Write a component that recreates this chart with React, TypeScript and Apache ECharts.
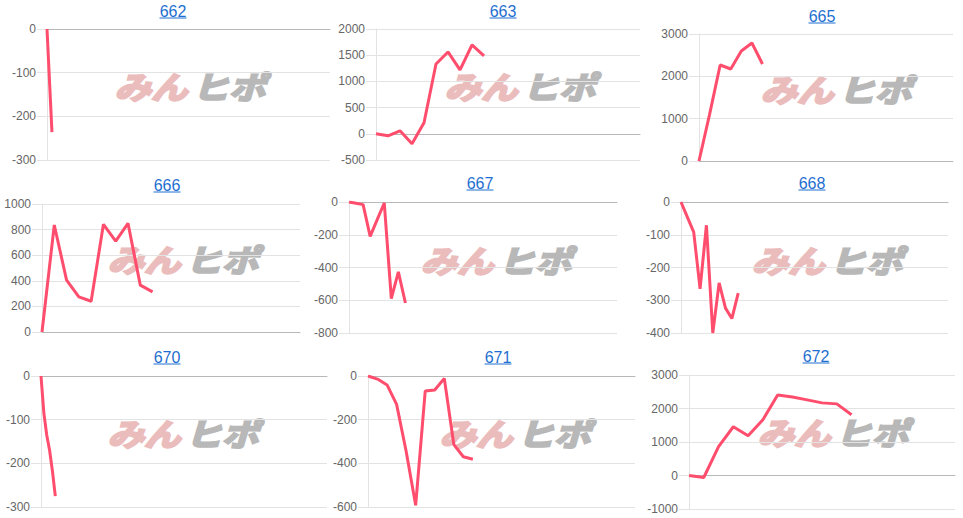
import React, { useEffect, useRef } from "react";
import * as echarts from "echarts";

// ---- data ----
const titles = ["662", "663", "665", "666", "667", "668", "670", "671", "672"];
const v662 = [0, -236];
const v663 = [0, -38, 57, -190, 210, 1333, 1562, 1219, 1695, 1486];
const v665 = [0, 1100, 2268, 2173, 2598, 2787, 2291];
const v666 = [0, 836, 405, 274, 240, 841, 710, 849, 366, 313];
const v667 = [0, -8, -16, -210, -108, -6, -590, -427, -617];
const v668 = [0, -46, -92, -265, -71, -400, -247, -324, -356, -278];
const v670 = [0, -85, -135, -170, -218, -275];
const v671 = [0, -14, -41, -130, -345, -592, -69, -64, -11, -314, -370, -381];
const v672 = [0, -60, 861, 1455, 1188, 1663, 2405, 2346, 2257, 2168, 2138, 1812];
const seriesValues = [v662, v663, v665, v666, v667, v668, v670, v671, v672];

// number of x slots (intervals) per chart
const xSlots = [57, 22, 24, 21, 38, 42, 100, 28, 18];
// y axis ranges
const yMin = [-300, -500, 0, 0, -800, -400, -300, -600, -1000];
const yMax = [0, 2000, 3000, 1000, 0, 0, 0, 0, 3000];
const yStep = [100, 500, 1000, 200, 200, 100, 100, 200, 1000];

// ---- layout ----
// [left, top, width, height]
const grids = [
  [47, 29, 283, 131],
  [376, 29, 264, 131],
  [699, 34, 254, 127],
  [42, 204, 258, 128],
  [349, 202, 268, 131],
  [681, 202, 267, 131],
  [41, 376, 286, 131],
  [368, 376, 267, 131],
  [689, 375, 266, 134],
];
const titlePos = [
  [173, 11], [503, 11], [822, 16],
  [167, 185], [480, 183], [812, 183],
  [167, 357], [498, 357], [816, 356],
];
const logoPos = [
  [190, 86], [520, 86], [836, 89],
  [183, 259], [496, 260], [827, 260],
  [183, 433], [515, 433], [833, 432],
];

const LINE = "#ff4d6d";
const GRIDC = "#e3e3e3";
const LINK = "#1f6fd0";
const FONT = "Arial, 'Liberation Sans', sans-serif";
const PINK = "#ebbcbc";
const GREY = "#b8b8b8";

export default function App() {
  const ref = useRef<HTMLDivElement>(null);
  useEffect(() => {
    if (!ref.current) return;
    const chart = echarts.init(ref.current, undefined, { renderer: "svg" });
    const graphic: any[] = [];
    const logoText = (text: string, x: number, align: string, color: string) => ({
      type: "text",
      x,
      y: 0,
      style: {
        text,
        fill: color,
        stroke: color,
        lineWidth: 2.2,
        fontSize: 31,
        fontWeight: "bold",
        fontStyle: "italic",
        fontFamily: "'Noto Sans CJK JP', sans-serif",
        textAlign: align,
        textVerticalAlign: "middle",
      },
    });
    titles.forEach((t, i) => {
      const [cx, cy] = titlePos[i];
      graphic.push({
        type: "text",
        x: cx,
        y: cy,
        z: 10,
        style: {
          text: t,
          fill: LINK,
          font: `16px ${FONT}`,
          textAlign: "center",
          textVerticalAlign: "middle",
        },
      });
      graphic.push({
        type: "line",
        z: 10,
        shape: { x1: cx - 13.5, y1: cy + 7, x2: cx + 13.5, y2: cy + 7 },
        style: { stroke: LINK, lineWidth: 1 },
      });
      const [lx, ly] = logoPos[i];
      graphic.push({
        type: "group",
        x: lx,
        y: ly,
        scaleX: 1.18,
        z: 1,
        children: [logoText("みん", -2, "right", PINK), logoText("ヒポ", 2, "left", GREY)],
      });
    });

    const option: any = {
      animation: false,
      backgroundColor: "#ffffff",
      grid: grids.map(([l, t, w, h]) => ({ left: l, top: t, width: w, height: h, containLabel: false })),
      xAxis: grids.map((_, i) => ({
        type: "value",
        gridIndex: i,
        min: 0,
        max: xSlots[i],
        axisLine: { show: true, onZero: true, lineStyle: { color: "#b8b8b8", width: 1 } },
        axisTick: { show: false },
        axisLabel: { show: false },
        splitLine: { show: false },
      })),
      yAxis: grids.map((_, i) => ({
        type: "value",
        gridIndex: i,
        min: yMin[i],
        max: yMax[i],
        interval: yStep[i],
        axisLine: { show: true, lineStyle: { color: GRIDC } },
        axisTick: { show: true, length: 10, lineStyle: { color: GRIDC } },
        axisLabel: {
          margin: 11,
          color: "#666666",
          fontSize: 12,
          fontFamily: FONT,
          formatter: (v: number) => String(v),
        },
        splitLine: { show: true, lineStyle: { color: GRIDC } },
      })),
      series: seriesValues.map((vals, i) => ({
        type: "line",
        xAxisIndex: i,
        yAxisIndex: i,
        data: vals.map((v, k) => [k, v]),
        symbol: "none",
        z: 5,
        lineStyle: { color: LINE, width: 3 },
      })),
      graphic,
    };
    chart.setOption(option);
    return () => chart.dispose();
  }, []);
  return (
    <div
      ref={ref}
      style={{ position: "fixed", left: 0, top: 0, width: 963, height: 518 }}
    />
  );
}
